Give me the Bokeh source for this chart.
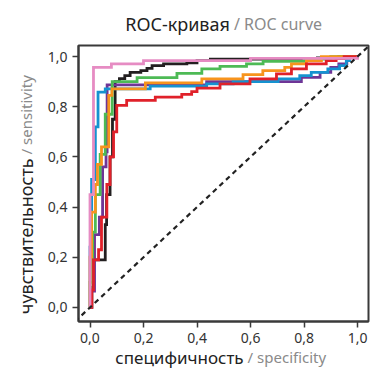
import math
from bokeh.plotting import figure
from bokeh.models import Range1d, FixedTicker, CustomJSTickFormatter, Slope
from bokeh.core.properties import value
from bokeh.embed import file_html
from bokeh.resources import INLINE

# ---------------- data ----------------
ticks = [0.0, 0.2, 0.4, 0.6, 0.8, 1.0]

black_x = [0, 0.007, 0.007, 0.013, 0.013, 0.057, 0.057, 0.062, 0.062, 0.075, 0.075, 0.084, 0.084,
           0.094, 0.094, 0.11, 0.11, 0.13, 0.13, 0.15, 0.15, 0.19, 0.19, 0.213, 0.213, 0.232, 0.232,
           0.275, 0.275, 0.362, 0.362, 0.40, 0.40, 0.45, 0.45, 0.85, 0.85, 0.93, 0.93, 1.0]
black_y = [0, 0, 0.08, 0.08, 0.19, 0.19, 0.33, 0.33, 0.45, 0.45, 0.60, 0.60, 0.75,
           0.75, 0.90, 0.90, 0.912, 0.912, 0.924, 0.924, 0.937, 0.937, 0.944, 0.944, 0.953, 0.953,
           0.964, 0.964, 0.971, 0.971, 0.975, 0.975, 0.984, 0.984, 0.99, 0.99, 0.995, 0.995, 1.0, 1.0]

purple_x = [0, 0.004, 0.004, 0.017, 0.017, 0.035, 0.035, 0.047, 0.047, 0.06, 0.06, 0.064, 0.064,
            0.436, 0.436, 0.79, 0.79, 0.86, 0.86, 0.90, 0.90, 0.93, 0.93, 0.96, 0.96, 1.0]
purple_y = [0, 0, 0.065, 0.065, 0.29, 0.29, 0.36, 0.36, 0.56, 0.56, 0.62, 0.62, 0.887,
            0.887, 0.900, 0.900, 0.917, 0.917, 0.937, 0.937, 0.957, 0.957, 0.971, 0.971, 1.0, 1.0]

blue_x = [0, 0, 0.006, 0.006, 0.02, 0.02, 0.03, 0.03, 0.057, 0.057, 0.225, 0.225, 0.436, 0.436,
          0.535, 0.535, 0.703, 0.703, 0.784, 0.784, 0.827, 0.827, 0.889, 0.889, 0.933, 0.933,
          0.958, 0.958, 0.97, 0.97, 1.0]
blue_y = [0, 0.24, 0.24, 0.51, 0.51, 0.72, 0.72, 0.858, 0.858, 0.871, 0.871, 0.882, 0.882, 0.891,
          0.891, 0.900, 0.900, 0.911, 0.911, 0.924, 0.924, 0.937, 0.937, 0.951, 0.951, 0.964,
          0.964, 0.984, 0.984, 0.997, 1.0]

green_x = [0, 0, 0.01, 0.01, 0.02, 0.02, 0.038, 0.038, 0.057, 0.057, 0.083, 0.083, 0.176, 0.176,
           0.325, 0.325, 0.418, 0.418, 0.486, 0.486, 0.585, 0.585, 0.647, 0.647, 0.80, 0.80,
           0.90, 0.90, 1.0]
green_y = [0, 0.10, 0.10, 0.30, 0.30, 0.45, 0.45, 0.61, 0.61, 0.77, 0.77, 0.90, 0.90, 0.916,
           0.916, 0.933, 0.933, 0.951, 0.951, 0.961, 0.961, 0.971, 0.971, 0.981, 0.981, 0.99,
           0.99, 1.0, 1.0]

orange_x = [0, 0, 0.006, 0.006, 0.02, 0.02, 0.028, 0.028, 0.043, 0.043, 0.07, 0.07, 0.082, 0.082,
            0.207, 0.207, 0.418, 0.418, 0.572, 0.572, 0.646, 0.646, 0.728, 0.728, 0.753, 0.753,
            0.809, 0.809, 0.865, 0.865, 1.0]
orange_y = [0, 0.20, 0.20, 0.38, 0.38, 0.49, 0.49, 0.57, 0.57, 0.64, 0.64, 0.845, 0.845, 0.871,
            0.871, 0.895, 0.895, 0.911, 0.911, 0.928, 0.928, 0.944, 0.944, 0.957, 0.957, 0.971,
            0.971, 0.984, 0.984, 1.0, 1.0]

red_x = [0, 0.007, 0.007, 0.013, 0.013, 0.032, 0.032, 0.043, 0.043, 0.063, 0.063, 0.075, 0.075,
         0.088, 0.088, 0.10, 0.10, 0.137, 0.137, 0.244, 0.244, 0.343, 0.343, 0.38, 0.38, 0.40,
         0.40, 0.486, 0.486, 0.598, 0.598, 0.697, 0.697, 0.753, 0.753, 0.809, 0.809, 0.883,
         0.883, 0.92, 0.92, 0.95, 0.95, 1.0]
red_y = [0, 0, 0.07, 0.07, 0.19, 0.19, 0.23, 0.23, 0.36, 0.36, 0.49, 0.49, 0.60,
         0.60, 0.70, 0.70, 0.805, 0.805, 0.825, 0.825, 0.838, 0.838, 0.849, 0.849, 0.86, 0.86,
         0.874, 0.874, 0.891, 0.891, 0.911, 0.911, 0.931, 0.931, 0.951, 0.951, 0.971, 0.971,
         0.984, 0.984, 0.992, 0.992, 1.0, 1.0]

pink_x = [0, 0, 0.013, 0.013, 0.08, 0.08, 0.20, 0.20, 0.60, 0.60, 1.0, 1.0]
pink_y = [0, 0.45, 0.45, 0.957, 0.957, 0.971, 0.971, 0.984, 0.984, 0.993, 0.993, 1.0]

curves = [
    (black_x, black_y, "#231f20"),
    (purple_x, purple_y, "#6f3596"),
    (blue_x, blue_y, "#1592d0"),
    (green_x, green_y, "#4dba55"),
    (orange_x, orange_y, "#f7941d"),
    (red_x, red_y, "#e0212a"),
    (pink_x, pink_y, "#e68cc3"),
]

title_main = "ROC-кривая"
title_sub = "/ ROC curve"
xlabel_main = "специфичность"
xlabel_sub = "/ specificity"
ylabel_main = "чувствительность"
ylabel_sub = "/ sensitivity"

FONT = "Noto Sans"
DARK = "#222222"
GRAY = "#8a8a8a"
AXIS = "#3a3a3a"

p = figure(width=371, height=376, output_backend="svg", toolbar_location=None,
           x_range=Range1d(-0.043, 1.041), y_range=Range1d(-0.056, 1.044),
           min_border_left=78, min_border_right=3, min_border_top=45, min_border_bottom=55)
p.background_fill_color = "white"
p.border_fill_color = "white"
p.grid.visible = False
p.outline_line_color = AXIS
p.outline_line_width = 2

fmt = CustomJSTickFormatter(code="return tick.toFixed(1).replace('.', ',');")
for ax in (p.xaxis[0], p.yaxis[0]):
    ax.ticker = FixedTicker(ticks=ticks)
    ax.formatter = fmt
    ax.axis_line_color = AXIS
    ax.axis_line_width = 2
    ax.major_tick_line_color = AXIS
    ax.major_tick_line_width = 1.5
    ax.major_tick_out = 6
    ax.major_tick_in = 0
    ax.minor_tick_line_color = None
    ax.major_label_text_font = FONT
    ax.major_label_text_font_size = "14px"
    ax.major_label_text_color = "#333333"
    ax.major_label_standoff = 5

# diagonal reference line
p.add_layout(Slope(gradient=1, y_intercept=0, line_color="#222222", line_width=2.2,
                   line_dash="5 4"))

for xs, ys, c in curves:
    p.line(xs, ys, line_color=c, line_width=2.8, line_join="miter")


def txt(x, y, s, align, size, color, angle=0.0):
    p.text(x=[x], y=[y], text=[s], text_align=align, text_baseline="alphabetic",
           angle=angle, text_font=value(FONT), text_font_size=value(size),
           text_color=color, level="overlay")


# titles / labels as two-tone text
txt(0.523, 1.130, title_main, "right", "18px", DARK)
txt(0.538, 1.130, title_sub, "left", "16px", GRAY)
txt(0.574, -0.198, xlabel_main, "right", "17px", DARK)
txt(0.589, -0.198, xlabel_sub, "left", "15px", GRAY)
txt(-0.239, 0.594, ylabel_main, "right", "18px", DARK, math.pi / 2)
txt(-0.239, 0.610, ylabel_sub, "left", "15px", GRAY, math.pi / 2)

open("out.html", "w").write(file_html(p, INLINE))
